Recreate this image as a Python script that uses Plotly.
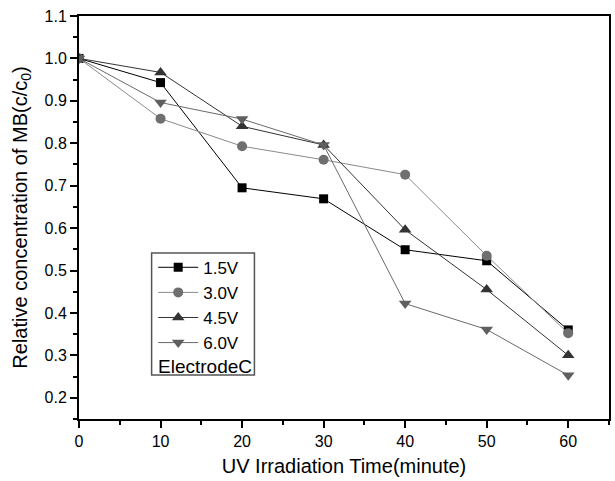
import plotly.graph_objects as go

time_min = [0, 10, 20, 30, 40, 50, 60]
v15 = [1.0, 0.943, 0.695, 0.669, 0.549, 0.523, 0.360]
v30 = [1.0, 0.858, 0.793, 0.761, 0.726, 0.535, 0.352]
v45 = [1.0, 0.967, 0.840, 0.796, 0.596, 0.455, 0.300]
v60 = [1.0, 0.896, 0.857, 0.796, 0.422, 0.361, 0.253]
x_ticks = [0, 10, 20, 30, 40, 50, 60]
y_ticks = [0.2, 0.3, 0.4, 0.5, 0.6, 0.7, 0.8, 0.9, 1.0, 1.1]

series = [
    ("1.5V", v15, "square", 9, "#000000", "#000000"),
    ("3.0V", v30, "circle", 10, "#6f6f6f", "#8a8a8a"),
    ("4.5V", v45, "triangle-up", 11, "#333333", "#333333"),
    ("6.0V", v60, "triangle-down", 11, "#5f5f5f", "#6a6a6a"),
]

fig = go.Figure()
for name, ys, sym, sz, mc, lc in series:
    fig.add_trace(go.Scatter(
        x=time_min, y=ys, name=name, mode="lines+markers",
        line=dict(color=lc, width=1),
        marker=dict(symbol=sym, size=sz, color=mc, line=dict(width=0)),
    ))

font = "Liberation Sans, Arial, sans-serif"
fig.update_layout(
    width=615, height=481,
    margin=dict(l=79, r=4, t=16, b=62),
    paper_bgcolor="white", plot_bgcolor="white",
    font=dict(family=font, size=16, color="black"),
    showlegend=True,
    legend=dict(x=0.14, y=0.42, xanchor="left", yanchor="top",
                bgcolor="rgba(0,0,0,0)", borderwidth=0,
                font=dict(size=17, family=font), itemwidth=40,
                tracegroupgap=0),
    xaxis=dict(range=[0, 65], tickvals=x_ticks, ticks="outside", ticklen=7,
               tickwidth=1.5, tickcolor="black",
               showline=True, linecolor="black", linewidth=2, mirror=True,
               showgrid=False, zeroline=False,
               minor=dict(dtick=5, ticks="outside", ticklen=4, tickcolor="black", tickwidth=1.5),
               title=dict(text="UV Irradiation Time(minute)", font=dict(size=20), standoff=10),
               tickfont=dict(size=16)),
    yaxis=dict(range=[0.15, 1.1], tickvals=y_ticks, ticktext=[f"{v:.1f}" for v in y_ticks],
               ticks="outside", ticklen=7, tickwidth=1.5, tickcolor="black",
               showline=True, linecolor="black", linewidth=2, mirror=True,
               showgrid=False, zeroline=False,
               minor=dict(dtick=0.05, tick0=0.15, ticks="outside", ticklen=4, tickcolor="black", tickwidth=1.5),
               title=dict(text="Relative concentration of MB(c/c<sub>0</sub>)", font=dict(size=20), standoff=12),
               tickfont=dict(size=16)),
    shapes=[dict(type="rect", xref="paper", yref="paper",
                 x0=0.137, x1=0.331, y0=0.109, y1=0.412,
                 line=dict(color="#555555", width=1.5), fillcolor="rgba(0,0,0,0)")],
    annotations=[dict(text="ElectrodeC", xref="paper", yref="paper",
                      x=0.237, y=0.1315, xanchor="center", yanchor="middle",
                      showarrow=False, font=dict(size=19, family=font, color="black"))],
)

fig.write_html("out.html")
